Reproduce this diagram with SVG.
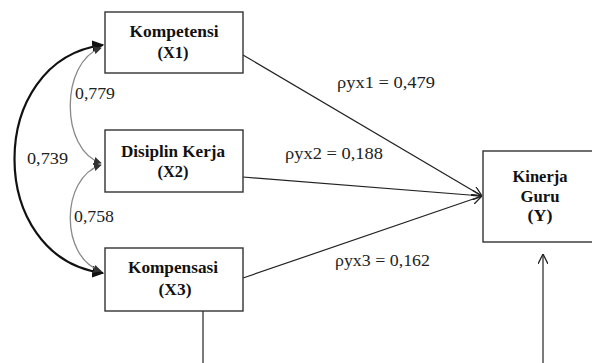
<svg xmlns="http://www.w3.org/2000/svg" width="592" height="363" viewBox="0 0 592 363">
<defs>
<style>
.box{fill:#fff;stroke:#333;stroke-width:1.4}
.nt{font-weight:bold;font-size:16px;fill:#111;text-anchor:middle}
.lb{font-size:16px;fill:#222}
.ln{fill:none;stroke:#222;stroke-width:1.2}
.thick{fill:none;stroke:#111;stroke-width:2.2}
.thin{fill:none;stroke:#888;stroke-width:1.3}
</style>
<marker id="open" viewBox="0 0 10 10" refX="10" refY="5" markerWidth="10" markerHeight="10" markerUnits="userSpaceOnUse" orient="auto">
<path d="M0,0 L10,5 L0,10" fill="none" stroke="#222" stroke-width="1.3"/>
</marker>
<marker id="fillBig" viewBox="0 0 10 10" refX="9" refY="5" markerWidth="12" markerHeight="12" markerUnits="userSpaceOnUse" orient="auto-start-reverse">
<path d="M0,0 L10,5 L0,10 Z" fill="#111"/>
</marker>
<marker id="fillSmall" viewBox="0 0 10 10" refX="9" refY="5" markerWidth="8" markerHeight="8" markerUnits="userSpaceOnUse" orient="auto-start-reverse">
<path d="M0,0 L10,5 L0,10 Z" fill="#333"/>
</marker>
</defs>
<rect width="592" height="363" fill="#fff"/>
<g id="connectors" font-family="'Liberation Serif', 'Times New Roman', 'DejaVu Serif', serif">
<path class="thick" d="M103,45 C-15,60 -15,258 103,273" marker-start="url(#fillBig)" marker-end="url(#fillBig)"/>
<path class="thin" d="M101,48 C60,62 60,150 101,163" marker-start="url(#fillSmall)" marker-end="url(#fillSmall)"/>
<path class="thin" d="M101,165 C60,178 60,258 101,271" marker-start="url(#fillSmall)" marker-end="url(#fillSmall)"/>
<line class="ln" x1="243" y1="55" x2="482" y2="196" marker-end="url(#open)"/>
<line class="ln" x1="243" y1="177" x2="482" y2="196" marker-end="url(#open)"/>
<line class="ln" x1="243" y1="278" x2="482" y2="196" marker-end="url(#open)"/>
<line class="ln" x1="203" y1="311" x2="203" y2="363"/>
<line class="ln" x1="543" y1="363" x2="543" y2="254" marker-end="url(#open)"/>
<text class="lb" x="75" y="99" textLength="40" lengthAdjust="spacingAndGlyphs">0,779</text>
<text class="lb" x="27" y="164" textLength="41" lengthAdjust="spacingAndGlyphs">0,739</text>
<text class="lb" x="74" y="222" textLength="40" lengthAdjust="spacingAndGlyphs">0,758</text>
<text class="lb" x="337" y="88" textLength="98" lengthAdjust="spacingAndGlyphs">ρyx1 = 0,479</text>
<text class="lb" x="285" y="159" textLength="98" lengthAdjust="spacingAndGlyphs">ρyx2 = 0,188</text>
<text class="lb" x="335" y="266" textLength="95" lengthAdjust="spacingAndGlyphs">ρyx3 = 0,162</text>
</g>
<g id="X1" font-family="'Liberation Serif', 'Times New Roman', 'DejaVu Serif', serif">
<rect class="box" x="105" y="12" width="138" height="61"/>
<text class="nt" x="174" y="37" textLength="89" lengthAdjust="spacingAndGlyphs">Kompetensi</text>
<text class="nt" x="173" y="58" textLength="31" lengthAdjust="spacingAndGlyphs">(X1)</text>
</g>
<g id="X2" font-family="'Liberation Serif', 'Times New Roman', 'DejaVu Serif', serif">
<rect class="box" x="105" y="130" width="138" height="62"/>
<text class="nt" x="173" y="157" textLength="104" lengthAdjust="spacingAndGlyphs">Disiplin Kerja</text>
<text class="nt" x="173" y="177" textLength="31" lengthAdjust="spacingAndGlyphs">(X2)</text>
</g>
<g id="X3" font-family="'Liberation Serif', 'Times New Roman', 'DejaVu Serif', serif">
<rect class="box" x="105" y="248" width="138" height="63"/>
<text class="nt" x="173" y="273" textLength="90" lengthAdjust="spacingAndGlyphs">Kompensasi</text>
<text class="nt" x="175" y="295" textLength="33" lengthAdjust="spacingAndGlyphs">(X3)</text>
</g>
<g id="Y" font-family="'Liberation Serif', 'Times New Roman', 'DejaVu Serif', serif">
<rect class="box" x="483" y="151" width="114" height="91"/>
<text class="nt" x="540" y="182" textLength="55" lengthAdjust="spacingAndGlyphs">Kinerja</text>
<text class="nt" x="540" y="202" textLength="39" lengthAdjust="spacingAndGlyphs">Guru</text>
<text class="nt" x="540" y="221" textLength="25" lengthAdjust="spacingAndGlyphs">(Y)</text>
</g>
</svg>
